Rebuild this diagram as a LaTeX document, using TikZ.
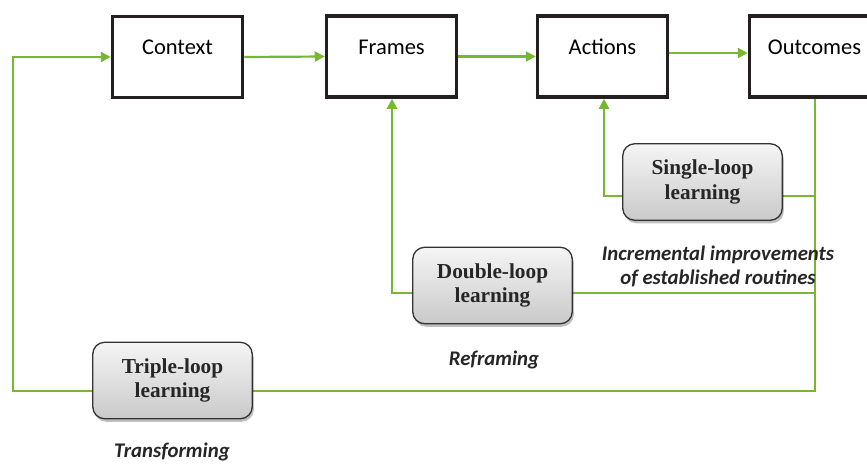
\documentclass[tikz,border=0pt]{standalone}
\usepackage{fontspec}
\setmainfont{Liberation Serif}
\newfontfamily\calfont{Carlito}
\usetikzlibrary{arrows.meta,shadows}
\definecolor{lgreen}{RGB}{119,183,52}
\definecolor{boxblack}{RGB}{35,31,32}
\tikzset{
  topbox/.style={draw=boxblack, line width=3.5pt, fill=white, minimum width=130pt, minimum height=81pt,
    font=\calfont\fontsize{22.5}{26}\selectfont, text height=15pt, text depth=20pt, inner sep=0pt},
  loopbox/.style={draw=black!80, line width=1.3pt, rounded corners=12pt, top color=gray!8, bottom color=gray!42,
    minimum width=159.5pt, minimum height=76.5pt, align=center, inner sep=0pt,
    font=\bfseries\fontsize{21.3}{24.5}\selectfont, text=black!85,
    drop shadow={shadow xshift=1.5pt, shadow yshift=-3pt, opacity=0.25, fill=black}},
  gl/.style={draw=lgreen, line width=2.2pt},
  garrow/.style={gl, -{Triangle[length=10pt,width=10pt]}},
  lbl/.style={font=\calfont\bfseries\itshape\fontsize{20.8}{24}\selectfont, text=black!85, align=center, inner sep=0pt}
}
\begin{document}
\begin{tikzpicture}[x=1pt,y=-1pt]
\useasboundingbox (0,0) rectangle (867,464);
\clip (0,0) rectangle (867,464);
\fill[white] (0,0) rectangle (867,464);

% top boxes
\node[topbox] (context) at (177.5,57) {Context};
\node[topbox] (frames) at (391.5,56.5) {Frames};
\node[topbox] (actions) at (602.5,56.5) {Actions};
\node[topbox] (outcomes) at (814.5,56.5) {Outcomes};

% coordinates for loops
\coordinate (j1) at (815,196);
\coordinate (j2) at (815,293);
\coordinate (j3) at (815,391);
\coordinate (s1) at (604,196);
\coordinate (d2) at (392,293);
\coordinate (lc) at (13,391);
\coordinate (tc) at (13,57);

% lines drawn under boxes
\draw[gl] (outcomes.south -| j3) -- (j3) -- (170,391);
\draw[gl] (j1) -- (700,196);
\draw[gl] (j2) -- (490,293);
\draw[garrow] (700,196) -- (s1) -- (actions.south -| s1);
\draw[garrow] (490,293) -- (d2) -- (frames.south -| d2);
\draw[garrow] (170,391) -- (lc) -- (tc) -- (context.west |- tc);

% top arrows
\draw[garrow] (context.east) -- (frames.west);
\draw[garrow] (frames.east) -- (actions.west);
\draw[garrow] ([yshift=3.5pt]actions.east) -- ([yshift=3.5pt]outcomes.west);

% loop boxes
\node[loopbox] (single) at (702.5,182) {Single-loop\\learning};
\node[loopbox] (double) at (492.5,285.5) {Double-loop\\learning};
\node[loopbox] (triple) at (172.5,380.5) {Triple-loop\\learning};

% labels
\node[lbl] (incr) at (718,266) {Incremental improvements\\of established routines};
\node[lbl] (refr) at (494,360) {Reframing};
\node[lbl] (trans) at (172,452) {Transforming};
\end{tikzpicture}
\end{document}
